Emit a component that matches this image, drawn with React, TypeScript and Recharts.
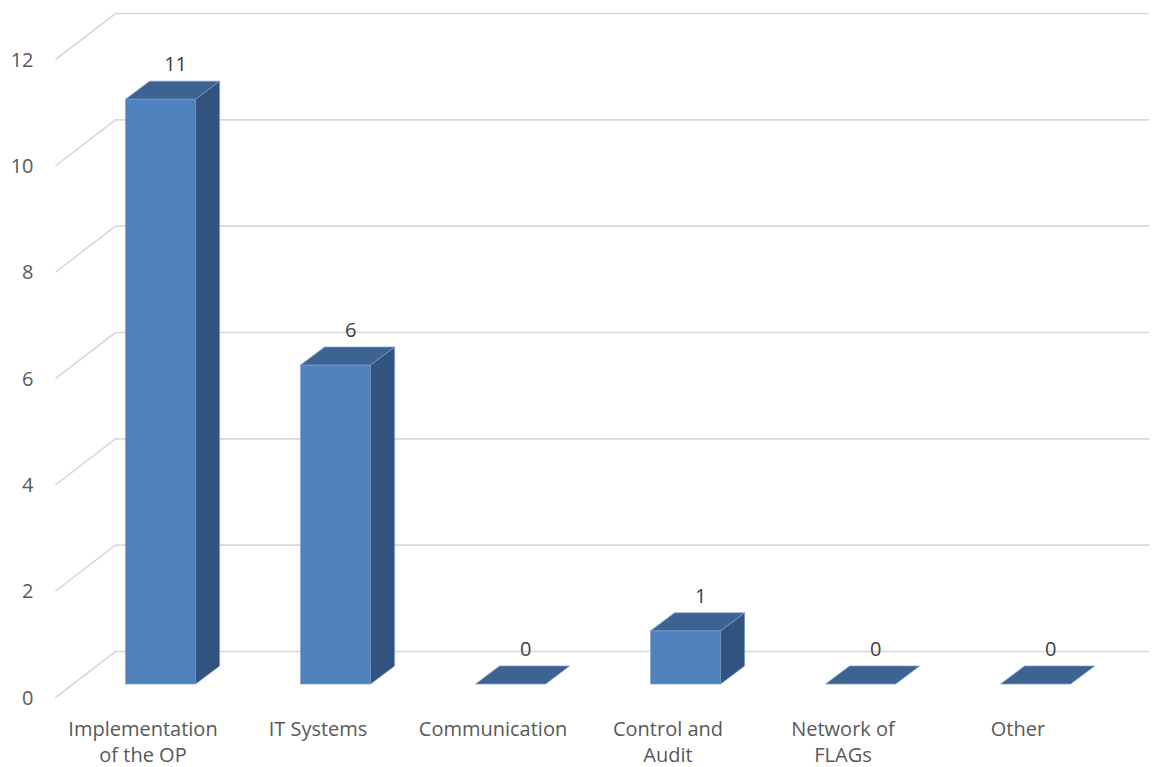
import React from "react";
import { BarChart, Bar, XAxis, YAxis, CartesianGrid, LabelList } from "recharts";

const categories = [
  "Implementation of the OP",
  "IT Systems",
  "Communication",
  "Control and Audit",
  "Network of FLAGs",
  "Other",
];
const values = [11, 6, 0, 1, 0, 0];
const yTicks = [0, 2, 4, 6, 8, 10, 12];

const data = categories.map((name, i) => ({ name, value: values[i] }));

const FONT = "'Open Sans', sans-serif";
const TEXT = "#595959";
const GRID = "#d9d9d9";
const FRONT = "#4f81bd";
const TOP = "#3c6392";
const SIDE = "#325380";
const EDGE = "#7d9fce";

// 3D geometry (pixels)
const FLOOR_DX = 60;
const FLOOR_DY = -46;
const BAR_DX = 17.6;
const BAR_DY = -13.5;
const DEPTH_DX = 24;
const DEPTH_DY = -18;

const gridLine = (props: any) => {
  const { x1, y1, x2 } = props;
  const bx = x1 + FLOOR_DX;
  const by = y1 + FLOOR_DY;
  return (
    <path
      key={props.key ?? `g-${y1}`}
      d={`M${x1},${y1} L${bx},${by} L${x2 + FLOOR_DX + 10},${by}`}
      stroke={GRID}
      strokeWidth={1.6}
      fill="none"
    />
  );
};

const Bar3D = (props: any) => {
  const { x, y, width, height } = props;
  const fx = x + BAR_DX;
  const fy = y + BAR_DY;
  const h = Math.max(0, height);
  const bottom = fy + h;
  const r = fx + width;
  return (
    <g>
      {h > 0 && (
        <rect x={fx} y={fy} width={width} height={h} fill={FRONT} stroke={EDGE} strokeWidth={0.7} />
      )}
      {h > 0 && (
        <path
          d={`M${r},${fy} L${r + DEPTH_DX},${fy + DEPTH_DY} L${r + DEPTH_DX},${bottom + DEPTH_DY} L${r},${bottom} Z`}
          fill={SIDE}
          stroke={EDGE}
          strokeWidth={0.5}
        />
      )}
      <path
        d={`M${fx},${fy} L${fx + DEPTH_DX},${fy + DEPTH_DY} L${r + DEPTH_DX},${fy + DEPTH_DY} L${r},${fy} Z`}
        fill={TOP}
        stroke={EDGE}
        strokeWidth={0.7}
      />
    </g>
  );
};

const renderLabel = (props: any) => {
  const { x, y, width, value } = props;
  const cx = x + width / 2 + BAR_DX + 15;
  const cy = y + BAR_DY + DEPTH_DY - 10;
  return (
    <text x={cx} y={cy} textAnchor="middle" fill={"#404040"} fontSize={20} fontFamily={FONT}>
      {value}
    </text>
  );
};

const wrap = (s: string, max: number) => {
  const words = s.split(" ");
  const lines: string[] = [];
  let cur = "";
  words.forEach((w) => {
    const t = cur ? cur + " " + w : w;
    if (t.length > max && cur) {
      lines.push(cur);
      cur = w;
    } else cur = t;
  });
  if (cur) lines.push(cur);
  return lines;
};

const XTick = (props: any) => {
  const { x, y, payload } = props;
  const lines = wrap(String(payload.value), 14);
  return (
    <g>
      {lines.map((l, i) => (
        <text
          key={i}
          x={x}
          y={y + 38 + i * 26}
          textAnchor="middle"
          fill={TEXT}
          fontSize={20}
          fontFamily={FONT}
        >
          {l}
        </text>
      ))}
    </g>
  );
};

export default function App() {
  return (
    <div style={{ width: 1149, height: 759, background: "#fff" }}>
      <BarChart
        width={1149}
        height={759}
        data={data}
        margin={{ top: 51.5, right: 51.5, bottom: 0, left: 0.5 }}
        barCategoryGap="30%"
      >
        <CartesianGrid horizontal={gridLine} vertical={false} />
        <XAxis
          dataKey="name"
          axisLine={false}
          tickLine={false}
          tickSize={0}
          tickMargin={0}
          height={69.5}
          interval={0}
          tick={<XTick />}
        />
        <YAxis
          domain={[0, 12]}
          ticks={yTicks}
          width={47}
          axisLine={false}
          tickLine={false}
          tickSize={0}
          tickMargin={22}
          tick={{ fill: TEXT, fontSize: 20, fontFamily: FONT }}
        />
        <Bar dataKey="value" shape={<Bar3D />} isAnimationActive={false}>
          <LabelList dataKey="value" content={renderLabel} />
        </Bar>
      </BarChart>
    </div>
  );
}
